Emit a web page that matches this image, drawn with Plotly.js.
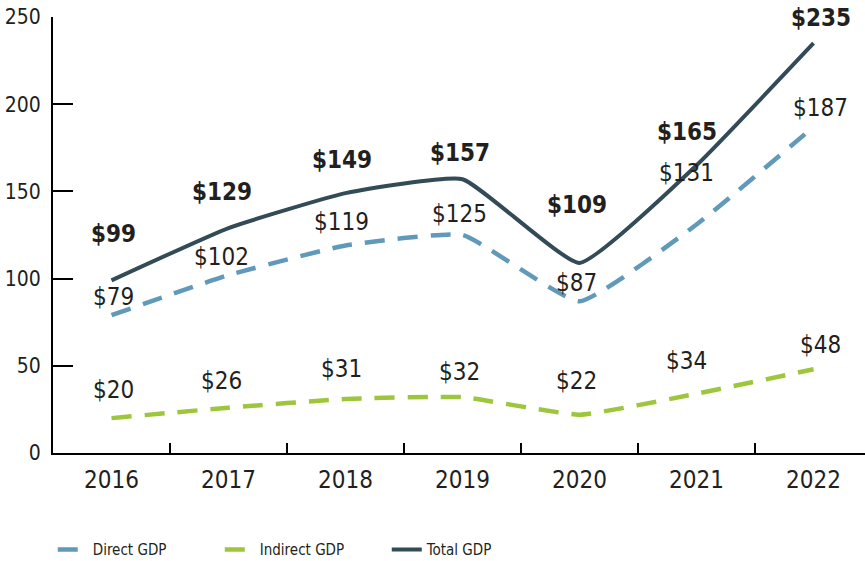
<!DOCTYPE html>
<html><head><meta charset="utf-8">
<script src="https://cdn.plot.ly/plotly-3.0.1.min.js"></script>
<style>html,body{margin:0;padding:0;background:#fff}#c{width:865px;height:561px}</style>
</head><body><div id="c"></div>
<script>
const years = ['2016','2017','2018','2019','2020','2021','2022'];
const directGDP = [79, 102, 119, 125, 87, 131, 187];
const indirectGDP = [20, 26, 31, 32, 22, 34, 48];
const totalGDP = [99, 129, 149, 157, 109, 165, 235];
const yTicks = [0, 50, 100, 150, 200, 250];

// label pixel offsets (style only)
const totalShift = [46, 36, 33, 26, 58, 33, 25];
const directShift = [18, 18, 23, 21, 18, 52, 19];
const indirectShift = [28, 27, 30, 25, 34, 33, 24];
const labelX = [2, -7, -4, -3, -3, -10, 7];

const FONT = 'Liberation Sans Narrow, DejaVu Sans Condensed, Arial Narrow, sans-serif';
const cTotal = '#334a57', cDirect = '#6099b9', cIndirect = '#9dc63d';

const traces = [
  {x: years, y: directGDP, name: 'Direct GDP', mode: 'lines',
   line: {color: cDirect, width: 4.5, dash: '20px,13px', shape: 'spline', smoothing: 0.4}},
  {x: years, y: indirectGDP, name: 'Indirect GDP', mode: 'lines',
   line: {color: cIndirect, width: 4.5, dash: '20px,13px', shape: 'spline', smoothing: 0.4}},
  {x: years, y: totalGDP, name: 'Total GDP', mode: 'lines',
   line: {color: cTotal, width: 4, shape: 'spline', smoothing: 0.4}}
];

const ann = [];
function addLabels(vals, shifts, bold) {
  vals.forEach((v, i) => {
    ann.push({x: i, y: v, xref: 'x', yref: 'y', text: bold ? '<b>$' + v + '</b>' : '$' + v,
      showarrow: false, yshift: shifts[i], xshift: labelX[i],
      font: {family: FONT, size: 24, color: '#231f20'}});
  });
}
addLabels(totalGDP, totalShift, true);
addLabels(directGDP, directShift, false);
addLabels(indirectGDP, indirectShift, false);

const layout = {
  width: 865, height: 561,
  margin: {l: 53, r: 0, t: 17, b: 108, autoexpand: false},
  paper_bgcolor: '#fff', plot_bgcolor: '#fff',
  font: {family: FONT, color: '#231f20'},
  showlegend: true,
  legend: {orientation: 'h', xref: 'container', yref: 'container', x: 0.061, y: 0.02,
    xanchor: 'left', yanchor: 'middle',
    font: {family: FONT, size: 15, color: '#231f20'}, entrywidth: 122, entrywidthmode: 'pixels'},
  xaxis: {type: 'category', range: [-0.5, 6.44], showgrid: false, zeroline: false,
    showline: true, linecolor: '#000', linewidth: 2, ticks: 'inside', tickson: 'boundaries',
    ticklen: 10, tickwidth: 2, tickcolor: '#000', ticklabelstandoff: 4,
    tickfont: {family: FONT, size: 24, color: '#231f20'}},
  yaxis: {range: [0, 250], tickvals: yTicks, showgrid: false, zeroline: false,
    showline: true, linecolor: '#000', linewidth: 2, ticks: 'inside', ticklen: 20,
    tickwidth: 2, tickcolor: '#000', ticklabelstandoff: 6,
    tickfont: {family: FONT, size: 21, color: '#231f20'}},
  annotations: ann
};
Plotly.newPlot('c', traces, layout, {displayModeBar: false, staticPlot: true});
</script></body></html>
